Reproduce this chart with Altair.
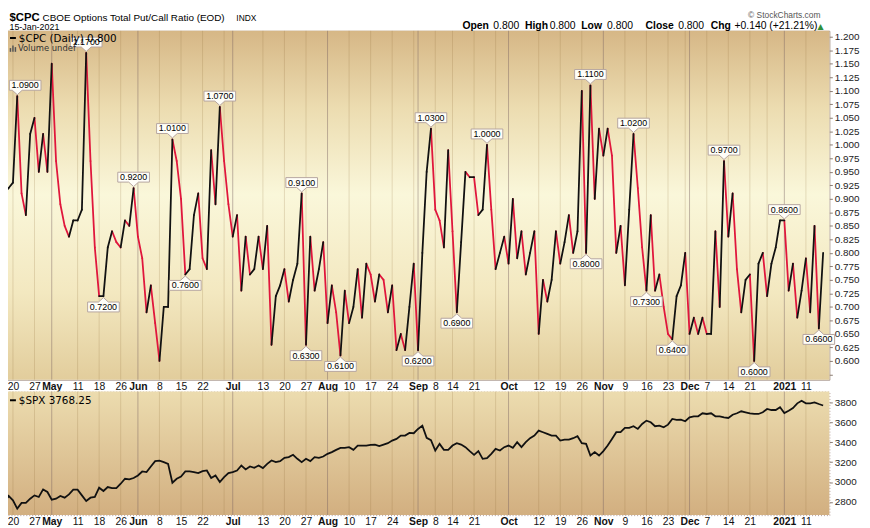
import altair as alt
import pandas as pd

# ---------------- data (trading-day index 0 = 20 Apr 2020) ----------------
FIRST_INDEX = -3
CPC = [
    0.99, 0.91, 0.92, 0.93, 1.09, 0.91, 0.87, 1.02, 1.05, 0.95,
    1.02, 0.95, 1.15, 0.97, 0.89, 0.85, 0.83, 0.86, 0.86, 0.88,
    1.17, 0.97, 0.81, 0.72, 0.72, 0.81, 0.84, 0.82, 0.81, 0.86,
    0.85, 0.92, 0.83, 0.79, 0.69, 0.74, 0.67, 0.60, 0.70, 0.70,
    1.01, 0.97, 0.90, 0.76, 0.77, 0.87, 0.91, 0.79, 0.77, 0.99,
    0.89, 1.07, 0.97, 0.89, 0.83, 0.87, 0.73, 0.83, 0.76, 0.77,
    0.83, 0.77, 0.85, 0.63, 0.72, 0.74, 0.77, 0.71, 0.75, 0.78,
    0.91, 0.63, 0.83, 0.73, 0.77, 0.82, 0.67, 0.74, 0.69, 0.61,
    0.73, 0.67, 0.70, 0.77, 0.68, 0.78, 0.76, 0.71, 0.76, 0.75,
    0.69, 0.74, 0.62, 0.65, 0.62, 0.70, 0.78, 0.62, 0.80, 0.95,
    1.03, 0.88, 0.86, 0.81, 0.99, 0.84, 0.69, 0.82, 0.95, 0.94,
    0.94, 0.87, 0.88, 1.00, 0.88, 0.77, 0.80, 0.83, 0.78, 0.90,
    0.79, 0.84, 0.76, 0.80, 0.84, 0.65, 0.75, 0.71, 0.75, 0.84,
    0.78, 0.82, 0.87, 0.80, 0.84, 1.10, 0.80, 1.11, 0.90, 1.03,
    0.98, 1.03, 0.98, 0.80, 0.85, 0.74, 0.88, 1.02, 0.92, 0.81,
    0.73, 0.87, 0.73, 0.76, 0.70, 0.65, 0.64, 0.72, 0.74, 0.80,
    0.65, 0.68, 0.65, 0.68, 0.65, 0.65, 0.84, 0.70, 0.97, 0.83,
    0.91, 0.77, 0.69, 0.75, 0.76, 0.60, 0.78, 0.80, 0.72, 0.78,
    0.81, 0.86, 0.86, 0.73, 0.78, 0.68, 0.73, 0.79, 0.69, 0.85,
    0.66, 0.80,
]
SPX = [
    2783, 2800, 2860, 2816, 2733, 2790, 2790, 2833, 2866, 2850,
    2926, 2900, 2823, 2833, 2860, 2843, 2876, 2923, 2923, 2866,
    2810, 2843, 2850, 2943, 2910, 2950, 2940, 2940, 2983, 3033,
    3026, 3040, 3066, 3106, 3100, 3156, 3210, 3215, 3200, 3183,
    2993, 3033, 3056, 3106, 3106, 3100, 3090, 3110, 3116, 3040,
    3066, 3000, 3050, 3090, 3100, 3116, 3166, 3126, 3156, 3143,
    3166, 3140, 3183, 3216, 3200, 3210, 3243, 3250, 3273, 3233,
    3200, 3233, 3210, 3250, 3243, 3256, 3283, 3300, 3323, 3343,
    3343, 3350, 3323, 3366, 3366, 3366, 3373, 3376, 3360, 3376,
    3390, 3416, 3433, 3466, 3466, 3493, 3490, 3533, 3566, 3443,
    3420, 3316, 3383, 3323, 3323, 3366, 3390, 3376, 3350, 3310,
    3273, 3310, 3233, 3240, 3283, 3333, 3316, 3350, 3366, 3343,
    3400, 3350, 3400, 3440, 3466, 3516, 3500, 3483, 3466, 3466,
    3416, 3426, 3426, 3440, 3460, 3390, 3383, 3266, 3300, 3266,
    3310, 3366, 3433, 3500, 3500, 3543, 3543, 3560, 3533, 3583,
    3616, 3600, 3560, 3566, 3550, 3576, 3633, 3623, 3626, 3610,
    3650, 3660, 3660, 3690, 3683, 3690, 3660, 3660, 3650, 3643,
    3676, 3690, 3710, 3700, 3690, 3683, 3683, 3700, 3733, 3723,
    3723, 3750, 3693, 3716, 3743, 3790, 3816, 3790, 3790, 3800,
    3783, 3768,
]
TICK_IDX = [0, 5, 9, 15, 20, 25, 29, 34, 39, 44, 51, 58, 63, 68, 73, 78, 83, 88,
            94, 98, 102, 107, 115, 122, 127, 132, 137, 142, 147, 152, 157, 161,
            166, 171, 179, 184]
TICK_LAB = ["20", "27", "May", "11", "18", "26", "Jun", "8", "15", "22", "Jul",
            "13", "20", "27", "Aug", "10", "17", "24", "Sep", "8", "14", "21",
            "Oct", "12", "19", "26", "Nov", "9", "16", "23", "Dec", "7", "14",
            "21", "2021", "11"]
MONTH_IDX = [9, 29, 51, 73, 94, 115, 137, 157, 179]
WEEK_IDX = [0, 5, 15, 20, 25, 34, 39, 44, 49, 58, 63, 68, 78, 83, 88, 93, 98, 102,
            107, 112, 122, 127, 132, 142, 147, 152, 156, 161, 166, 171, 175, 184]
PEAK_IDX = [17, 28, 37, 48, 67, 97, 110, 134, 144, 165, 179]
EDGE_PEAK_IDX = [1]          # peak label kept inside the visible page edge
TROUGH_IDX = [21, 40, 68, 76, 94, 103, 133, 147, 153, 172, 187]
CPC_TICKS = [0.575, 0.6, 0.625, 0.65, 0.675, 0.7, 0.725, 0.75, 0.775, 0.8, 0.825,
             0.85, 0.875, 0.9, 0.925, 0.95, 0.975, 1.0, 1.025, 1.05, 1.075, 1.1,
             1.125, 1.15, 1.175, 1.2]
SPX_TICKS = [2800, 3000, 3200, 3400, 3600, 3800]

# ---------------- tables ----------------
idx = list(range(FIRST_INDEX, FIRST_INDEX + len(CPC)))
df = pd.DataFrame({"i": idx, "cpc": CPC, "spx": SPX})
seg = pd.DataFrame({"i": idx[:-1], "i2": idx[1:], "v": CPC[:-1], "v2": CPC[1:]})
seg_up = seg[seg["v2"] >= seg["v"]]
seg_dn = seg[seg["v2"] < seg["v"]]
lab_up = df[df["i"].isin(PEAK_IDX)]
lab_edge = df[df["i"].isin(EDGE_PEAK_IDX)]
lab_dn = df[df["i"].isin(TROUGH_IDX)]
weeks = pd.DataFrame({"i": WEEK_IDX})
months = pd.DataFrame({"i": MONTH_IDX})
one = pd.DataFrame({"a": [0]})

W = 836
H_TOP = 353
H_BOT = 125
GAP = 12
TOP_Y0 = 27
BOT_Y0 = TOP_Y0 + H_TOP + GAP

xs = alt.Scale(domain=[-2.2936, 189.45], nice=False, zero=False)
lab_expr = "[" + ",".join("'%s'" % s for s in TICK_LAB) + "][indexof(" + str(TICK_IDX) + ", datum.value)]"
xaxis = alt.Axis(values=TICK_IDX, labelExpr=lab_expr, title=None, grid=False,
                 ticks=False, domain=False, labelPadding=2, labelFontSize=10.5,
                 labelFont="Arial", labelColor="#111", labelOverlap=False,
                 labelFlush=False,
                 labelFontWeight={"condition": {"test": "indexof(" + str(MONTH_IDX) + ", datum.value) >= 0", "value": "bold"}, "value": "normal"})

GRID_C = "#8c6432"
ys_top = alt.Scale(domain=[0.5653, 1.211], nice=False, zero=False)
yaxis_top = alt.Axis(orient="right", values=CPC_TICKS,
                     labelExpr="datum.value < 0.59 ? '' : format(datum.value, '.3f')",
                     title=None, tickSize=3, tickColor="#8a7a70", labelPadding=2,
                     labelFontSize=10, labelFont="Arial", labelColor="#222",
                     grid=True, gridColor=GRID_C, gridOpacity=0.2, domain=False,
                     labelOverlap=False)
ys_bot = alt.Scale(domain=[2668, 3908], nice=False, zero=False)
yaxis_bot = alt.Axis(orient="right", values=SPX_TICKS, format="d", title=None,
                     tickSize=3, tickColor="#8a7a70", labelPadding=2, labelFontSize=10,
                     labelFont="Arial", labelColor="#222", grid=True,
                     gridColor=GRID_C, gridOpacity=0.2, domain=False, labelOverlap=False)


def X(f="i"):
    return alt.X(f + ":Q", scale=xs, axis=xaxis)


def txt(s, px, py, size, y0, weight="normal", color="#000", font="Arial", align="left"):
    return alt.Chart(pd.DataFrame({"t": [s]})).mark_text(
        align=align, baseline="alphabetic", fontSize=size, fontWeight=weight,
        color=color, font=font).encode(x=alt.value(px - 2), y=alt.value(py - y0), text="t:N")


def hline(x1, x2, py, y0, color="#000", w=2, opacity=1):
    return alt.Chart(one).mark_rule(color=color, strokeWidth=w, opacity=opacity).encode(
        x=alt.value(x1 - 2), x2=alt.value(x2 - 2), y=alt.value(py - y0))


def vline(px, ya, yb, y0, color="#555", w=1.5):
    return alt.Chart(one).mark_rule(color=color, strokeWidth=w).encode(
        x=alt.value(px - 2), y=alt.value(ya - y0), y2=alt.value(yb - y0))


def background(grad, h):
    return alt.Chart(one).mark_rect(color=grad).encode(
        x=alt.value(0), x2=alt.value(W), y=alt.value(0), y2=alt.value(h))


week_rules = alt.Chart(weeks).mark_rule(color=GRID_C, opacity=0.2, strokeWidth=1).encode(x=X())
month_rules = alt.Chart(months).mark_rule(color="#786060", opacity=0.45, strokeWidth=1).encode(x=X())

grad_top = alt.LinearGradient(gradient="linear", x1=0, x2=0, y1=0, y2=1, stops=[
    alt.GradientStop(color="#d6b786", offset=0),
    alt.GradientStop(color="#ecdcb0", offset=0.22),
    alt.GradientStop(color="#faf7da", offset=0.47),
    alt.GradientStop(color="#f3e8c0", offset=0.75),
    alt.GradientStop(color="#e2cd9c", offset=1)])
grad_bot = alt.LinearGradient(gradient="linear", x1=0, x2=0, y1=0, y2=1, stops=[
    alt.GradientStop(color="#ecdcaf", offset=0),
    alt.GradientStop(color="#d2af80", offset=1)])

# ---------------- top panel ----------------
seg_enc = dict(x=X(), x2="i2:Q", y=alt.Y("v:Q", scale=ys_top, axis=yaxis_top), y2="v2:Q")
dn_layer = alt.Chart(seg_dn).mark_rule(color="#e0163c", strokeWidth=1.8, strokeCap="round", clip=True).encode(**seg_enc)
up_layer = alt.Chart(seg_up).mark_rule(color="#111111", strokeWidth=1.8, strokeCap="round", clip=True).encode(**seg_enc)

BOX_UP = "M0,-1.5L5,-6L16,-6L16,-16L-16,-16L-16,-6L-5,-6Z"
BOX_EDGE = "M0,-1.5L5,-6L24,-6L24,-16L-8,-16L-8,-6L-5,-6Z"
BOX_DN = "M0,1.5L5,6L16,6L16,16L-16,16L-16,6L-5,6Z"
lab_enc = dict(x=X(), y=alt.Y("cpc:Q", scale=ys_top, axis=yaxis_top))


def box(data, shape):
    return alt.Chart(data).mark_point(shape=shape, size=4, filled=True, fill="#fffef8",
                                      stroke="#b5a5a0", strokeWidth=1, opacity=1).encode(**lab_enc)


def box_text(data, dx, dy):
    return alt.Chart(data).mark_text(dx=dx, dy=dy, baseline="middle", fontSize=9, font="Arial",
                                     color="#000").encode(text=alt.Text("cpc:Q", format=".4f"), **lab_enc)


labels = [box(lab_up, BOX_UP), box(lab_edge, BOX_EDGE), box(lab_dn, BOX_DN),
          box_text(lab_up, 0, -11), box_text(lab_edge, 8, -11), box_text(lab_dn, 0, 11)]

header = [
    # invisible frame marker that fixes the page extent
    hline(-8, 870, -8, TOP_Y0, opacity=0),
    txt("$CPC", 8.5, 17, 11.5, TOP_Y0, weight="bold"),
    txt("CBOE Options Total Put/Call Ratio (EOD)", 42, 17, 10, TOP_Y0),
    txt("INDX", 238, 17, 8.5, TOP_Y0),
    txt("15-Jan-2021", 8.5, 26.3, 9, TOP_Y0),
    txt("\u00a9 StockCharts.com", 829, 14.5, 8.5, TOP_Y0, color="#555", align="right"),
    txt("Open", 466.7, 25.3, 10.5, TOP_Y0, weight="bold"),
    txt("0.800", 498, 25.3, 10.5, TOP_Y0),
    txt("High", 530, 25.3, 10.5, TOP_Y0, weight="bold"),
    txt("0.800", 555, 25.3, 10.5, TOP_Y0),
    txt("Low", 587, 25.3, 10.5, TOP_Y0, weight="bold"),
    txt("0.800", 613, 25.3, 10.5, TOP_Y0),
    txt("Close", 652, 25.3, 10.5, TOP_Y0, weight="bold"),
    txt("0.800", 685, 25.3, 10.5, TOP_Y0),
    txt("Chg", 718, 25.3, 10.5, TOP_Y0, weight="bold"),
    txt("+0.140 (+21.21%)", 742, 25.3, 10.5, TOP_Y0),
    txt("\u25b2", 826, 25.3, 8, TOP_Y0, color="#2f8f3a", font="DejaVu Sans"),
    hline(9, 15, 34.3, TOP_Y0),
    txt("$CPC (Daily) 0.800", 18, 38.3, 10.5, TOP_Y0, font="DejaVu Sans"),
    vline(9.5, 44.5, 48.3, TOP_Y0),
    vline(12, 42, 48.3, TOP_Y0),
    vline(14.5, 43.5, 48.3, TOP_Y0),
    txt("Volume undef", 17, 47.8, 8.5, TOP_Y0, color="#333", font="DejaVu Sans"),
]

top = alt.layer(background(grad_top, H_TOP), week_rules, month_rules, dn_layer, up_layer,
                *labels, *header).properties(
    width=W, height=H_TOP,
    view=alt.ViewBackground(stroke="#a8968c", strokeWidth=1))

# ---------------- bottom panel ----------------
spx_line = alt.Chart(df).mark_line(color="#111111", strokeWidth=1.8, clip=True).encode(
    x=X(), y=alt.Y("spx:Q", scale=ys_bot, axis=yaxis_bot))
bot_legend = [
    hline(2, 3, 535, BOT_Y0, opacity=0),
    hline(9, 15, 400.8, BOT_Y0),
    txt("$SPX 3768.25", 18, 405, 10.5, BOT_Y0, font="DejaVu Sans"),
]
bottom = alt.layer(background(grad_bot, H_BOT), week_rules, month_rules, spx_line,
                   *bot_legend).properties(
    width=W, height=H_BOT,
    view=alt.ViewBackground(stroke="#b09a96", strokeWidth=1, strokeDash=[1, 2]))

chart = alt.vconcat(top, bottom, spacing=GAP, bounds="flush").properties(
    padding={"left": -16, "top": -16, "right": 0, "bottom": -7},
    autosize=alt.AutoSizeParams(type="pad"),
).configure(background="white")

chart.save("out.html", embed_options={"renderer": "svg", "actions": False})
